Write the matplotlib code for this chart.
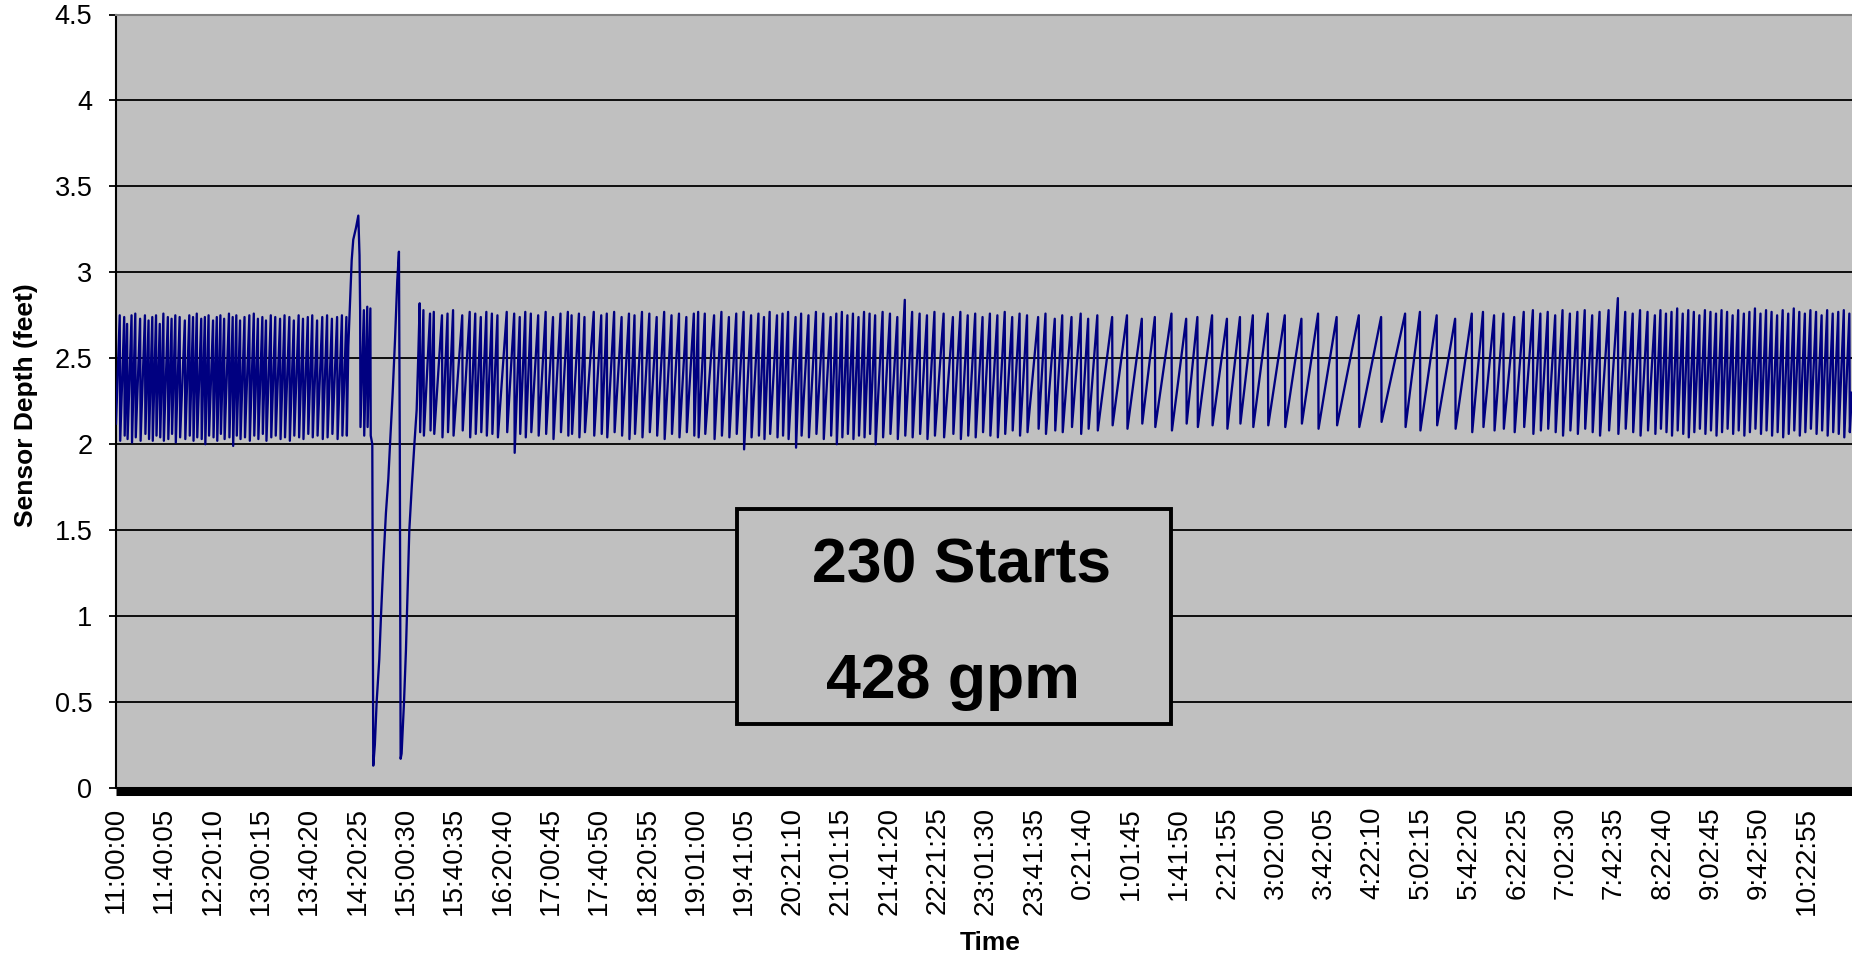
import matplotlib.pyplot as plt
from matplotlib.patches import Rectangle

plt.rcParams['font.family'] = ['Liberation Sans', 'DejaVu Sans']

# --- data (time = minutes after 11:00:00) ---
# pump starts: time of each sharp drop, level just before it and level it falls to
drop_min = [
    3.1, 6.8, 9.2, 12.9, 16.0, 20.0, 24.0, 27.0, 30.1, 33.2, 36.3, 39.3, 43.0, 46.1,
    49.2, 52.8, 57.1, 60.8, 63.9, 67.0, 70.7, 73.7, 76.8, 80.5, 83.6, 86.6, 89.7, 93.7,
    96.8, 99.8, 102.9, 106.6, 110.6, 114.3, 117.7, 121.4, 124.4, 128.4, 132.1, 136.1,
    139.8, 143.8, 147.5, 151.5, 155.1, 159.1, 162.8, 166.8, 171.1, 175.1, 179.1, 183.4,
    187.4, 191.1,
    251.9, 255.0, 260.5, 263.6, 270.4, 275.0, 279.6, 287.2, 293.4, 298.0, 302.6, 307.2,
    311.8, 316.4, 324.1, 330.3, 334.9, 339.5, 344.1, 350.2, 356.4, 362.5, 368.7, 374.8,
    377.9, 384.0, 388.6, 396.3, 402.5, 407.1, 413.2, 419.4, 425.5, 430.1, 436.3, 442.4,
    448.5, 454.7, 460.8, 467.0, 473.1, 479.3,
    482.9, 488.4, 496.1, 502.2, 508.4, 514.5, 520.6, 526.8, 532.9, 537.5, 542.2, 548.3,
    552.9, 557.5, 563.7, 568.3, 574.4, 580.6, 586.7, 592.8, 597.5, 602.1, 606.7, 611.3,
    615.9, 620.5, 625.1, 629.7, 635.9, 642.0, 648.1, 654.3, 660.4, 666.6, 672.7, 678.9,
    686.5, 694.2, 700.4, 706.5, 712.7, 718.8, 724.9, 731.1, 737.2, 743.4, 749.5, 755.7,
    764.9, 771.0, 778.7, 784.9, 792.6, 800.2, 806.4, 814.0,
    826.3, 838.6, 850.9, 861.7, 875.5, 887.7, 897.0, 909.2, 921.5, 932.3, 943.0, 955.4,
    969.5, 983.3, 997.1, 1012.5, 1030.9, 1049.4, 1069.3, 1081.6, 1095.5, 1110.8, 1124.6,
    1133.9, 1143.1, 1150.8, 1159.8, 1167.7, 1175.3, 1181.5, 1187.6, 1193.8, 1199.9,
    1206.0, 1212.2, 1218.3, 1224.5, 1230.6, 1238.1, 1245.8, 1251.9, 1258.1, 1264.2,
    1270.4, 1276.5, 1281.1, 1285.7, 1290.3, 1295.0, 1299.6, 1304.2, 1308.8, 1313.4,
    1318.0, 1322.6, 1327.2, 1331.8, 1336.4, 1341.0, 1345.6, 1350.3, 1354.9, 1359.5,
    1364.1, 1368.7, 1373.3, 1377.9, 1382.5, 1387.1, 1391.7, 1396.3, 1400.9, 1405.5,
    1410.2, 1414.8, 1419.4, 1424.0, 1428.6, 1433.2, 1437.8,
]
peak_ft = [
    2.75, 2.74, 2.70, 2.75, 2.76, 2.73, 2.75, 2.72, 2.74, 2.75, 2.70, 2.76, 2.74, 2.73,
    2.75, 2.74, 2.72, 2.75, 2.74, 2.76, 2.73, 2.74, 2.75, 2.72, 2.74, 2.75, 2.73, 2.76,
    2.74, 2.75, 2.72, 2.74, 2.75, 2.76, 2.73, 2.74, 2.72, 2.75, 2.74, 2.73,
    2.75, 2.74, 2.72, 2.75, 2.73, 2.74, 2.75, 2.72, 2.74, 2.75, 2.73, 2.74,
    2.75, 2.74,
    2.82, 2.78, 2.76, 2.77, 2.75, 2.76, 2.78, 2.75, 2.77, 2.76, 2.74, 2.77,
    2.76, 2.75, 2.77, 2.76, 2.74, 2.77, 2.76, 2.75, 2.77, 2.74, 2.76, 2.77,
    2.75, 2.76, 2.74, 2.77, 2.75, 2.76, 2.77, 2.74, 2.76, 2.75, 2.77, 2.76,
    2.74, 2.77, 2.75, 2.76, 2.74, 2.76,
    2.77, 2.76, 2.75, 2.77, 2.74, 2.76, 2.77, 2.75, 2.76, 2.74, 2.77, 2.75,
    2.76, 2.77, 2.74, 2.76, 2.75, 2.77, 2.76, 2.74, 2.76, 2.77, 2.75, 2.76,
    2.74, 2.77, 2.76, 2.75, 2.77, 2.76, 2.74, 2.84, 2.77, 2.76, 2.75, 2.77,
    2.76, 2.74, 2.77, 2.75, 2.76, 2.74, 2.76, 2.75, 2.77, 2.74, 2.76, 2.75,
    2.74, 2.76, 2.73, 2.75, 2.74, 2.76, 2.73, 2.75,
    2.74, 2.75, 2.73, 2.74, 2.76, 2.73, 2.74, 2.75, 2.73, 2.74, 2.75, 2.76,
    2.75, 2.73, 2.76, 2.74, 2.75, 2.74, 2.76, 2.77, 2.75, 2.73, 2.76,
    2.77, 2.75, 2.76, 2.74, 2.77, 2.78, 2.76, 2.77, 2.75, 2.78,
    2.76, 2.77, 2.78, 2.75, 2.77, 2.78, 2.85, 2.77, 2.76, 2.78, 2.77,
    2.75, 2.78, 2.76, 2.77, 2.79, 2.76, 2.78, 2.77, 2.75, 2.78,
    2.77, 2.76, 2.78, 2.77, 2.75, 2.78, 2.76, 2.77, 2.79, 2.76,
    2.78, 2.77, 2.75, 2.78, 2.76, 2.79, 2.77, 2.76, 2.78, 2.77,
    2.75, 2.78, 2.76, 2.77, 2.78, 2.76, 2.77,
]
trough_ft = [
    2.02, 2.05, 2.03, 2.01, 2.04, 2.02, 2.06, 2.03, 2.02, 2.05, 2.04, 2.02, 2.03, 2.06,
    2.01, 2.04, 2.03, 2.05, 2.02, 2.04, 2.03, 2.00, 2.05, 2.04, 2.02, 2.06, 2.03, 2.04,
    1.99, 2.05, 2.03, 2.04, 2.02, 2.05, 2.03, 2.06, 2.02, 2.04, 2.05, 2.03,
    2.04, 2.02, 2.05, 2.04, 2.03, 2.06, 2.04, 2.05, 2.03, 2.04, 2.06, 2.03,
    2.05, 2.05,
    2.07, 2.05, 2.08, 2.06, 2.04, 2.07, 2.05, 2.08, 2.04, 2.06, 2.07, 2.05,
    2.06, 2.04, 2.07, 1.95, 2.06, 2.04, 2.07, 2.05, 2.06, 2.03, 2.07, 2.05,
    2.06, 2.04, 2.07, 2.05, 2.06, 2.04, 2.07, 2.05, 2.03, 2.06, 2.04, 2.07,
    2.05, 2.03, 2.06, 2.04, 2.07, 2.05,
    2.04, 2.06, 2.03, 2.05, 2.04, 2.06, 1.97, 2.04, 2.05, 2.03, 2.06, 2.04,
    2.05, 2.03, 1.98, 2.05, 2.04, 2.06, 2.03, 2.05, 2.00, 2.04, 2.06, 2.03,
    2.05, 2.04, 2.06, 2.00, 2.04, 2.06, 2.03, 2.05, 2.04, 2.06, 2.03, 2.05,
    2.04, 2.06, 2.03, 2.05, 2.04, 2.07, 2.05, 2.04, 2.06, 2.08, 2.05, 2.07,
    2.09, 2.06, 2.08, 2.07, 2.10, 2.06, 2.09, 2.08,
    2.11, 2.09, 2.12, 2.10, 2.08, 2.12, 2.10, 2.11, 2.09, 2.12, 2.10, 2.11,
    2.10, 2.12, 2.09, 2.11, 2.10, 2.13, 2.10, 2.08, 2.11, 2.09, 2.07,
    2.10, 2.08, 2.09, 2.07, 2.10, 2.06, 2.08, 2.09, 2.07, 2.05,
    2.08, 2.06, 2.09, 2.07, 2.05, 2.08, 2.06, 2.09, 2.07, 2.05, 2.08,
    2.06, 2.09, 2.07, 2.05, 2.08, 2.06, 2.04, 2.07, 2.09, 2.06,
    2.08, 2.05, 2.07, 2.09, 2.06, 2.08, 2.05, 2.07, 2.09, 2.06,
    2.08, 2.05, 2.07, 2.04, 2.06, 2.08, 2.05, 2.07, 2.09, 2.06,
    2.08, 2.05, 2.07, 2.06, 2.04, 2.07, 2.06,
]

# the disturbance between about 14:11 and 15:11
event_min = [
    192.7, 194.1, 195.5, 196.8, 199.1, 201.0, 202.0, 202.5, 202.8, 205.6, 205.9, 208.4,
    208.7, 211.0, 211.3, 212.6, 213.4, 214.7, 216.2, 218.4, 219.8, 221.7, 223.9, 225.9,
    227.3, 229.5, 231.4, 233.3, 234.7, 235.4, 236.1, 236.9, 238.9, 240.5, 241.7, 243.3,
    245.3, 247.5, 249.4, 250.8,
]
event_ft = [
    2.57, 2.82, 3.07, 3.19, 3.26, 3.33, 3.10, 2.78, 2.10, 2.78, 2.05, 2.80,
    2.10, 2.79, 2.05, 2.00, 0.13, 0.25, 0.50, 0.75, 1.00, 1.30, 1.60, 1.80,
    2.00, 2.30, 2.60, 2.95, 3.12, 2.00, 0.17, 0.20, 0.50, 0.80, 1.10, 1.50,
    1.75, 2.00, 2.20, 2.53,
]
start_ft = 2.12
end_ft = 2.30

tick_labels = [
    "11:00:00", "11:40:05", "12:20:10", "13:00:15", "13:40:20", "14:20:25",
    "15:00:30", "15:40:35", "16:20:40", "17:00:45", "17:40:50", "18:20:55",
    "19:01:00", "19:41:05", "20:21:10", "21:01:15", "21:41:20", "22:21:25",
    "23:01:30", "23:41:35", "0:21:40", "1:01:45", "1:41:50", "2:21:55",
    "3:02:00", "3:42:05", "4:22:10", "5:02:15", "5:42:20", "6:22:25",
    "7:02:30", "7:42:35", "8:22:40", "9:02:45", "9:42:50", "10:22:55",
]

# --- assemble the trace ---
pts = [(0.0, start_ft)]
for t, hi, lo in zip(drop_min, peak_ft, trough_ft):
    pts.append((t, hi))
    pts.append((t + 0.4, lo))
pts += list(zip(event_min, event_ft))
pts.append((1439.9, end_ft))
pts.sort()
times = [p[0] for p in pts]
depth = [p[1] for p in pts]

# --- plot ---
W, H = 1852, 959
fig = plt.figure(figsize=(W / 100, H / 100), dpi=100)
ax = fig.add_axes([116 / W, 1 - 788 / H, 1 - 116 / W, (788 - 14.5) / H])
ax.set_facecolor('#C0C0C0')

ax.plot(times, depth, color='#000080', lw=1.65, zorder=3)

ax.set_xlim(0, 1440)
ax.set_ylim(0, 4.5)
ax.set_yticks([0, 0.5, 1, 1.5, 2, 2.5, 3, 3.5, 4, 4.5])
ax.set_yticklabels(['0', '0.5', '1', '1.5', '2', '2.5', '3', '3.5', '4', '4.5'])
ax.set_xticks([i * 2405 / 60 for i in range(len(tick_labels))])
ax.set_xticklabels(tick_labels)

for v in [0.5, 1, 1.5, 2, 2.5, 3, 3.5, 4]:
    ax.axhline(v, color='black', lw=1.3, zorder=1)

ax.tick_params(axis='y', direction='out', length=5, width=1.3, pad=12,
               labelsize=19.5, color='black')
ax.tick_params(axis='x', length=0, pad=11, labelsize=20, labelrotation=90)

ax.spines['top'].set_color('#808080')
ax.spines['top'].set_linewidth(1.5)
ax.spines['right'].set_visible(False)
ax.spines['left'].set_linewidth(1.5)
ax.spines['bottom'].set_linewidth(6.5)
ax.spines['bottom'].set_position(('outward', 2.5))
ax.spines['bottom'].set_capstyle('butt')

# annotation box
ax.add_patch(Rectangle((514.8, 0.373), 360.0, 1.251, facecolor='#C0C0C0',
                       edgecolor='black', lw=2.8, zorder=4))
ax.text(701.7, 1.197, "230 Starts", ha='center', va='baseline',
        fontsize=45, fontweight='bold', zorder=5)
ax.text(694.2, 0.522, "428 gpm", ha='center', va='baseline',
        fontsize=45, fontweight='bold', zorder=5)

fig.text(26 / W, 1 - 405 / H, "Sensor Depth (feet)", rotation=90,
         ha='center', va='center', fontsize=19, fontweight='bold')
fig.text(990 / W, 1 - 943 / H, "Time", ha='center', va='center',
         fontsize=19, fontweight='bold')

fig.savefig("out.png", dpi=100)
